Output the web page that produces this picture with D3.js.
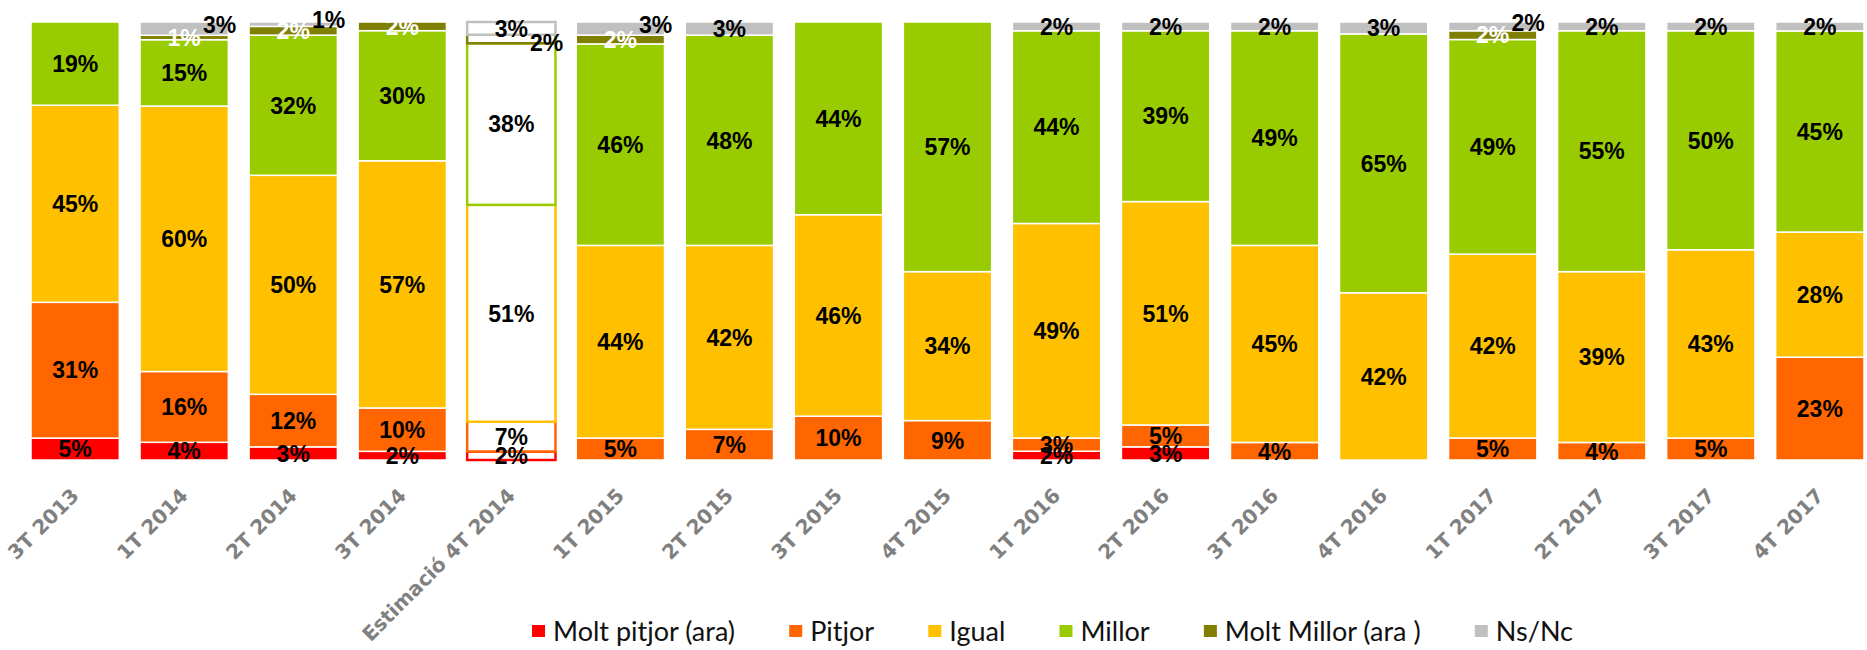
<!DOCTYPE html>
<html>
<head>
<meta charset="utf-8">
<script src="https://cdn.jsdelivr.net/npm/d3@7"></script>
<style>
  body { margin: 0; background: #fff; }
  svg { display: block; }
</style>
</head>
<body>
<svg id="chart" width="1867" height="650"></svg>
<script>
// categories and values (percentages as shown in the labels)
var categories = ["3T 2013", "1T 2014", "2T 2014", "3T 2014", "Estimació 4T 2014",
    "1T 2015", "2T 2015", "3T 2015", "4T 2015", "1T 2016", "2T 2016", "3T 2016",
    "4T 2016", "1T 2017", "2T 2017", "3T 2017", "4T 2017"];
var estimateCategory = "Estimació 4T 2014";

var moltPitjor = [5, 4, 3, 2, 2, 0, 0, 0, 0, 2, 3, 0, 0, 0, 0, 0, 0];
var pitjor     = [31, 16, 12, 10, 7, 5, 7, 10, 9, 3, 5, 4, 0, 5, 4, 5, 23];
var igual      = [45, 60, 50, 57, 51, 44, 42, 46, 34, 49, 51, 45, 42, 42, 39, 43, 28];
var millor     = [19, 15, 32, 30, 38, 46, 48, 44, 57, 44, 39, 49, 65, 49, 55, 50, 45];
var moltMillor = [0, 1, 2, 2, 2, 2, 0, 0, 0, 0, 0, 0, 0, 2, 0, 0, 0];
var nsnc       = [0, 3, 1, 0, 3, 3, 3, 0, 0, 2, 2, 2, 3, 2, 2, 2, 2];

var seriesNames = ["Molt pitjor (ara)", "Pitjor", "Igual", "Millor", "Molt Millor (ara )", "Ns/Nc"];
var seriesColors = ["#ff0000", "#ff6600", "#ffc000", "#99cc00", "#808000", "#c0c0c0"];
var seriesValues = [moltPitjor, pitjor, igual, millor, moltMillor, nsnc];

var svg = d3.select("#chart");

var rows = categories.map(function(c, i) {
    var r = { cat: c };
    seriesNames.forEach(function(s, j) { r[s] = seriesValues[j][i]; });
    return r;
});

// 100% stacked, like the original
var stacked = d3.stack()
    .keys(seriesNames)
    .offset(d3.stackOffsetExpand)(rows);

var xScale = d3.scaleBand()
    .domain(categories)
    .range([31, 1864])
    .paddingInner(0.19)
    .paddingOuter(0);

var yScale = d3.scaleLinear()
    .domain([0, 1])
    .range([460, 22]);

var color = d3.scaleOrdinal().domain(seriesNames).range(seriesColors);

var bw = xScale.bandwidth();

stacked.forEach(function(layer) {
    var pts = layer.filter(function(p) { return p.data[layer.key] > 0; });
    svg.append("g").selectAll("rect")
        .data(pts)
        .enter()
        .append("rect")
        .attr("x", function(d) { return xScale(d.data.cat); })
        .attr("y", function(d) { return yScale(d[1]); })
        .attr("width", bw)
        .attr("height", function(d) { return yScale(d[0]) - yScale(d[1]); })
        .attr("fill", function(d) {
            return d.data.cat == estimateCategory ? "#fff" : color(layer.key);
        })
        .attr("stroke", function(d) {
            return d.data.cat == estimateCategory ? color(layer.key) : "#fff";
        })
        .attr("stroke-width", function(d) {
            return d.data.cat == estimateCategory ? 2.5 : 1.5;
        });
});

// data labels
var labels = svg.append("g")
    .attr("font-family", "'Liberation Sans', Arial, sans-serif")
    .attr("font-weight", "bold")
    .attr("font-size", 23)
    .attr("text-anchor", "middle");

stacked.forEach(function(layer) {
    layer.forEach(function(p) {
        var v = p.data[layer.key];
        if (!v) return;
        var isEst = p.data.cat == estimateCategory;
        var both = p.data["Molt Millor (ara )"] > 0 && p.data["Ns/Nc"] > 0;
        var cx = xScale(p.data.cat) + bw / 2;
        var cy = (yScale(p[0]) + yScale(p[1])) / 2;
        var fill = "#000";
        if (layer.key == "Molt Millor (ara )") {
            if (isEst) { cx += bw * 0.4; cy += 4; }
            else fill = "#fff";
        }
        if (layer.key == "Ns/Nc" && both && !isEst) {
            cx += bw * 0.4;
            cy -= 4;
        }
        labels.append("text")
            .attr("x", cx)
            .attr("y", cy)
            .attr("dy", "0.36em")
            .attr("fill", fill)
            .text(v + "%");
    });
});

// x axis labels, rotated
svg.append("g").selectAll("text")
    .data(categories)
    .enter()
    .append("text")
    .attr("transform", function(d) {
        return "translate(" + (xScale(d) + bw / 2) + ",492) rotate(-45)";
    })
    .attr("text-anchor", "end")
    .attr("dy", "0.35em")
    .attr("font-family", "'DejaVu Sans', sans-serif")
    .attr("font-weight", "bold")
    .attr("font-size", 20)
    .attr("fill", "#808080")
    .text(function(d) { return d; });

// legend
var legend = svg.append("g")
    .attr("font-family", "Lato, 'DejaVu Sans', sans-serif")
    .attr("font-size", 27)
    .attr("fill", "#111");

var items = [];
seriesNames.forEach(function(s, i) {
    var g = legend.append("g");
    g.append("rect")
        .attr("x", 0).attr("y", -6)
        .attr("width", 13).attr("height", 12)
        .attr("fill", seriesColors[i]);
    var t = g.append("text")
        .attr("x", 21)
        .attr("dy", "0.36em")
        .text(s);
    items.push({ g: g, w: 21 + t.node().getComputedTextLength() });
});
var legendLeft = 532, legendRight = 1573;
var gap = (legendRight - legendLeft - d3.sum(items, function(d) { return d.w; })) / (items.length - 1);
var lx = legendLeft;
items.forEach(function(it) {
    it.g.attr("transform", "translate(" + lx + ",631)");
    lx += it.w + gap;
});
</script>
</body>
</html>
